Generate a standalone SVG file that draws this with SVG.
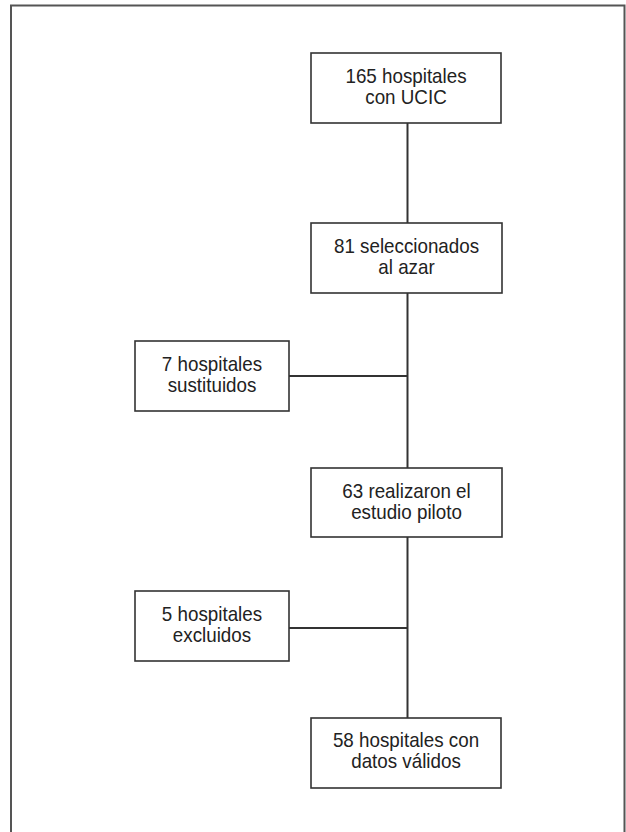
<svg xmlns="http://www.w3.org/2000/svg" width="626" height="832" viewBox="0 0 626 832">
<style>
.box{fill:#fff;stroke:#333;stroke-width:1.6}
.t{font-family:"Liberation Sans",Arial,sans-serif;font-size:20px;fill:#222;text-anchor:middle}
.c{stroke:#333;stroke-width:2;fill:none}
</style>
<rect x="0" y="0" width="626" height="832" fill="#fff"/>
<path d="M11 840 V5.5 H624.5 V840" fill="none" stroke="#555" stroke-width="2"/>
<g id="connectors">
<line class="c" x1="407.5" y1="123" x2="407.5" y2="223"/>
<line class="c" x1="407.5" y1="293" x2="407.5" y2="468"/>
<line class="c" x1="289" y1="376" x2="407.5" y2="376"/>
<line class="c" x1="407.5" y1="537" x2="407.5" y2="718"/>
<line class="c" x1="289" y1="628" x2="407.5" y2="628"/>
</g>
<g id="n1">
<rect class="box" x="311" y="53" width="190" height="70"/>
<g transform="translate(406 0) scale(0.94 1)">
<text class="t" x="0" y="83">165 hospitales</text>
<text class="t" x="0" y="104">con UCIC</text>
</g>
</g>
<g id="n2">
<rect class="box" x="311" y="223" width="191" height="70"/>
<g transform="translate(406.5 0) scale(0.94 1)">
<text class="t" x="0" y="253">81 seleccionados</text>
<text class="t" x="0" y="274">al azar</text>
</g>
</g>
<g id="n3">
<rect class="box" x="135" y="341" width="154" height="70"/>
<g transform="translate(212 0) scale(0.94 1)">
<text class="t" x="0" y="371">7 hospitales</text>
<text class="t" x="0" y="392">sustituidos</text>
</g>
</g>
<g id="n4">
<rect class="box" x="311" y="468" width="191" height="69"/>
<g transform="translate(406.5 0) scale(0.94 1)">
<text class="t" x="0" y="498">63 realizaron el</text>
<text class="t" x="0" y="519">estudio piloto</text>
</g>
</g>
<g id="n5">
<rect class="box" x="135" y="591" width="154" height="70"/>
<g transform="translate(212 0) scale(0.94 1)">
<text class="t" x="0" y="621">5 hospitales</text>
<text class="t" x="0" y="642">excluidos</text>
</g>
</g>
<g id="n6">
<rect class="box" x="311" y="718" width="190" height="70"/>
<g transform="translate(406 0) scale(0.94 1)">
<text class="t" x="0" y="747">58 hospitales con</text>
<text class="t" x="0" y="768">datos válidos</text>
</g>
</g>
</svg>
